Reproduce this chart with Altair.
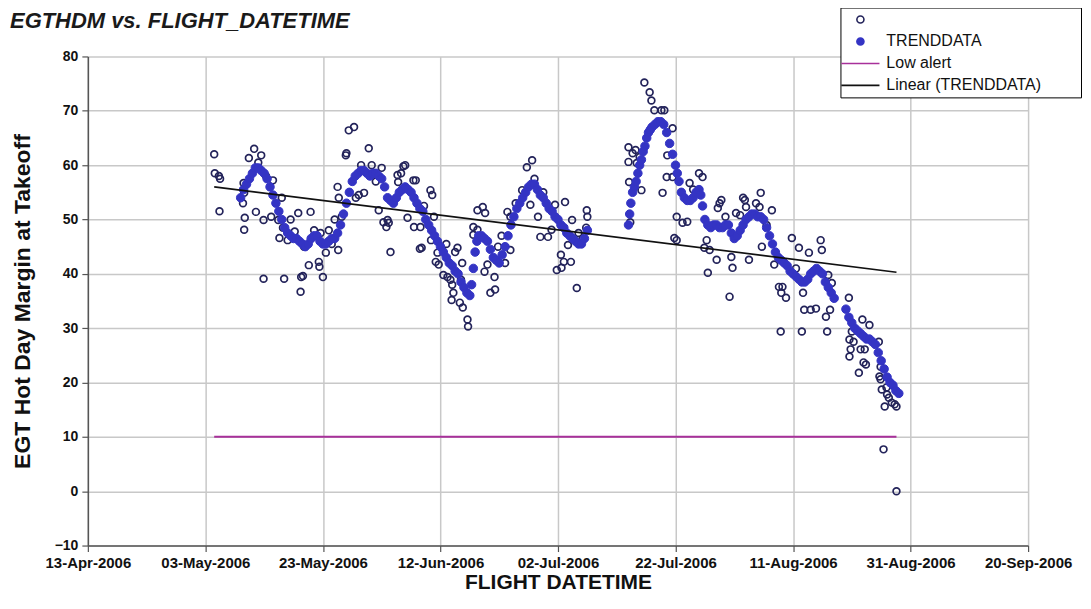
import altair as alt
import pandas as pd

BASE = pd.Timestamp("2006-04-13")

# ---- raw EGTHDM readings (open circles): days after 13-Apr-2006, value ----
raw_day = [21.5, 21.6, 22.3, 22.5, 22.4,
           26.5, 26.6, 26.4, 26.7, 26.6, 27.4,
           28.3, 28.6, 29.0, 29.5, 29.9, 29.9, 30.3,
           31.2, 31.5, 32.4, 32.6, 33.0, 33.4, 33.2,
           34.0, 34.5, 35.2, 35.8, 36.2, 36.3, 36.6, 36.8,
           37.6, 37.9, 38.5, 39.3, 39.4, 39.6, 40.0, 40.5, 41.0, 41.5, 42.0,
           42.5, 42.7, 42.6, 43.2, 43.9, 44.0, 44.4, 45.3,
           45.6, 46.1, 46.5, 47.0, 47.8, 48.3, 49.0, 49.5, 50.0,
           50.3, 50.8, 51.0, 51.2, 51.5, 52.0,
           52.7, 52.8, 53.3, 53.7, 54.0, 54.4, 55.4, 55.5, 55.8,
           56.6, 56.5, 56.8, 57.2, 58.3, 58.6, 58.4, 58.9,
           59.2, 59.5, 59.7, 60.5, 61.2, 61.0,
           61.7, 62.0, 62.2, 61.9, 62.5, 62.9, 63.5, 63.7, 63.3, 63.8,
           64.6, 64.7, 65.6, 65.6, 66.3, 66.3,
           66.8, 67.2, 67.6, 67.5, 68.0, 68.5, 69.3, 69.2, 69.8, 70.4,
           71.0, 71.4, 71.9, 71.9, 72.8, 73.9, 74.7, 75.6, 75.3, 76.0,
           76.6, 77.0, 77.5, 78.3, 78.9, 79.5, 79.8, 80.5, 81.2, 80.6, 81.0,
           81.7, 82.4, 82.2, 83.2, 83.5, 84.2, 84.9, 85.0, 84.8,
           92.0, 92.0, 92.1, 92.3, 92.7, 93.2, 93.4, 93.9, 94.2, 94.7,
           95.6, 95.9, 96.4, 97.6, 98.1, 97.8, 98.5, 98.6, 99.5, 99.5,
           99.8, 100.2, 100.2, 101.2, 102.0, 102.4, 103.0, 104.0, 104.6,
           104.9, 105.3, 105.8, 105.5, 107.0, 107.2, 107.5, 107.8, 108.5,
           109.2, 109.5, 109.7, 110.3, 111.0, 111.5, 111.8, 112.0, 112.5,
           113.7, 114.5, 114.3, 114.7, 115.5, 116.4, 116.8, 117.6, 118.2, 118.0, 118.8, 117.9,
           119.8, 121.0, 120.5, 121.5, 121.7, 121.9, 122.7, 123.0, 123.9, 124.7, 124.9,
           125.6, 125.8, 126.0, 126.6, 126.3,
           129.5, 129.6, 129.8, 129.6, 130.0, 130.3, 131.2, 131.5, 132.2, 132.4, 131.8, 132.0,
           133.0, 134.6, 134.9, 134.9, 135.1, 134.7, 135.4, 135.6, 136.0, 136.3, 135.9,
           136.8, 137.3, 137.6, 137.6]
raw_val = [62.0, 58.5, 58.0, 57.5, 51.5,
           56.7, 54.9, 53.0, 50.3, 48.1, 61.3,
           63.0, 51.4, 60.5, 61.8, 49.9, 39.1, 58.0,
           50.5, 57.2, 49.9, 46.6, 54.0, 39.1, 48.5,
           46.2, 50.0, 47.8, 51.2, 36.7, 39.4, 39.6, 45.0,
           41.6, 51.4, 48.0, 42.2, 41.3, 47.5, 39.4, 43.9, 48.0, 45.5, 50.0,
           56.0, 54.0, 44.4, 50.5, 61.8, 62.2, 66.4, 67.0,
           54.0, 54.5, 60.0, 54.9, 63.1, 60.0, 57.0, 51.7, 59.5,
           49.5, 48.6, 49.9, 49.4, 44.0, 53.5,
           58.2, 56.9, 58.5, 59.8, 60.0, 50.3, 57.2, 48.6, 57.2,
           48.6, 44.6, 44.8, 52.5, 55.4, 54.5, 46.2, 50.5,
           42.2, 43.9, 41.7, 39.8, 39.4, 45.5,
           38.9, 38.0, 36.5, 35.2, 44.0, 44.8, 38.9, 42.0, 34.7, 33.8,
           31.6, 30.3, 48.6, 47.2, 51.7, 48.1,
           46.8, 52.3, 51.2, 40.4, 41.7, 36.5, 37.1, 39.4, 45.0, 47.0,
           42.0, 51.4, 50.5, 44.4, 53.0, 55.4, 59.6, 60.9, 52.7, 57.5,
           50.5, 46.8, 55.0, 46.8, 48.1, 52.7, 40.7, 43.5, 53.2, 41.1, 42.2,
           45.3, 49.9, 42.2, 37.4, 47.5, 46.5, 51.7, 50.5, 48.5,
           63.3, 60.6, 56.9, 49.5, 62.2, 62.8, 60.4, 61.5, 55.4, 75.2,
           73.4, 71.9, 70.1, 70.1, 70.1, 54.9, 57.8, 61.8, 66.8, 57.8,
           46.6, 46.2, 50.5, 49.4, 49.6, 56.7, 55.5, 58.5, 57.8,
           44.8, 46.2, 44.4, 40.2, 42.6, 52.1, 53.0, 53.6, 50.5,
           35.8, 43.1, 41.1, 51.2, 50.8, 54.0, 53.6, 52.3, 42.6,
           53.0, 54.9, 52.3, 45.0, 49.0, 51.7, 41.7, 37.6, 37.6, 36.5, 35.6, 29.4,
           46.6, 44.8, 41.0, 29.4, 36.5, 33.4, 43.9, 33.4, 33.6, 46.2, 44.4,
           32.1, 29.4, 39.8, 38.3, 33.4,
           35.6, 27.9, 26.1, 24.8, 29.4, 27.5, 21.8, 26.1, 26.1, 23.3, 31.6, 23.7,
           30.6, 27.5, 22.9, 20.6, 18.7, 21.1, 7.7, 15.6, 17.8, 17.2, 19.1,
           16.3, 16.0, 15.6, 0.0]

# ---- TRENDDATA (filled dots), read at about half-day steps ----
trend_day = [26.0, 26.5, 27.0, 27.5, 28.0, 28.5, 29.0, 29.5, 30.0, 30.5, 31.0, 31.5,
             32.0, 32.5, 33.0, 33.5, 34.0, 34.5, 35.0, 35.5, 36.0, 36.5, 37.0, 37.5,
             38.0, 38.5, 39.0, 39.5, 40.0, 40.5, 41.0, 41.5, 42.0, 42.5, 43.0, 43.5,
             44.0, 44.5, 45.0, 45.5, 46.0, 46.5, 47.0, 47.5, 48.0, 48.5, 49.0, 49.5,
             50.0, 50.5, 51.0, 51.5, 52.0, 52.5, 53.0, 53.5, 54.0, 54.5, 55.0, 55.5,
             56.0, 56.5, 57.0, 57.5, 58.0, 58.5, 59.0, 59.5, 60.0, 60.5, 61.0, 61.5,
             62.0, 62.5, 63.0, 63.5, 64.0, 64.5, 65.0, 65.3, 65.6, 65.9, 66.2, 66.5,
             67.0, 67.5, 68.0, 68.5, 69.0, 69.5, 70.0, 70.5, 71.0, 71.5, 72.0, 72.5,
             73.0, 73.5, 74.0, 74.5, 75.0, 75.5, 76.0, 76.5, 77.0, 77.5, 78.0, 78.5,
             79.0, 79.5, 80.0, 80.5, 81.0, 81.5, 82.0, 82.5, 83.0, 83.5, 84.0, 84.5, 85.0,
             92.0, 92.2, 92.4, 92.7, 93.0, 93.3, 93.6, 93.9, 94.2, 94.5, 94.8, 95.1,
             95.4, 95.7, 96.0, 96.5, 97.0, 97.5, 98.0, 98.5, 99.0, 99.5, 100.0, 100.3,
             100.6, 101.0, 101.5, 102.0, 102.5, 103.0, 103.5, 104.0, 104.3, 104.6, 105.0,
             105.5, 106.0, 106.5, 107.0, 107.5, 108.0, 108.5, 109.0, 109.5, 110.0, 110.5,
             111.0, 111.5, 112.0, 112.5, 113.0, 113.5, 114.0, 114.5, 115.0, 115.5, 116.0,
             116.5, 117.0, 117.5, 118.0, 118.5, 119.0, 119.5, 120.0, 120.5, 121.0, 121.5,
             122.0, 122.5, 123.0, 123.5, 124.0, 124.5, 125.0, 125.5, 126.0, 126.5, 127.0,
             129.0, 129.5, 130.0, 130.5, 131.0, 131.5, 132.0, 132.5, 133.0, 133.5, 134.0,
             134.5, 135.0, 135.5, 136.0, 136.5, 137.0, 137.5, 138.0]
trend_val = [54.0, 55.5, 56.5, 57.5, 58.5, 59.5, 59.5, 59.0, 58.5, 57.5, 56.0, 54.5,
             53.0, 51.5, 50.0, 48.5, 47.5, 47.0, 46.5, 46.5, 46.0, 45.5, 45.0, 45.5,
             46.5, 47.0, 47.0, 46.0, 45.5, 45.5, 46.0, 46.5, 46.5, 47.5, 49.0, 51.0,
             53.0, 55.0, 57.0, 58.0, 58.5, 59.0, 59.0, 58.5, 58.0, 58.5, 58.5, 58.0,
             57.5, 56.0, 54.0, 53.5, 53.0, 54.0, 55.0, 55.5, 56.0, 55.5, 55.0, 54.0,
             53.0, 52.0, 51.5, 50.0, 49.0, 48.0, 47.0, 46.0, 45.0, 44.0, 43.0, 42.0,
             41.5, 40.5, 40.0, 38.5, 37.5, 36.5, 36.0, 38.0, 41.0, 44.0, 46.0, 47.0,
             47.0, 46.5, 46.0, 44.5, 43.0, 42.5, 42.0, 43.5, 45.0, 47.0, 49.0, 50.5,
             52.0, 53.0, 54.0, 55.0, 56.0, 56.5, 56.5, 55.5, 54.5, 54.0, 53.0, 52.0,
             51.5, 50.5, 50.0, 49.0, 48.5, 47.5, 47.0, 46.5, 46.0, 45.5, 45.5, 46.5, 48.0,
             49.0, 51.0, 53.0, 55.0, 56.0, 57.0, 58.5, 60.0, 61.0, 62.5, 63.5, 65.0,
             66.0, 66.5, 67.0, 67.5, 68.0, 68.0, 67.5, 66.0, 64.0, 62.0, 60.0, 58.5,
             57.0, 55.0, 54.0, 53.5, 53.5, 54.0, 55.0, 55.5, 54.5, 52.5, 50.0,
             49.0, 48.5, 49.0, 49.0, 48.5, 48.5, 49.0, 49.0, 47.5, 46.5, 47.0,
             48.0, 49.0, 50.0, 50.5, 51.0, 51.0, 50.5, 50.5, 50.0, 48.5, 47.0,
             45.5, 44.0, 43.0, 42.5, 42.0, 41.5, 40.5, 40.0, 39.5, 39.0, 38.5,
             38.5, 39.0, 40.0, 40.5, 41.0, 40.5, 40.0, 38.5, 37.5, 36.5, 35.5,
             33.5, 32.0, 31.0, 30.0, 29.5, 29.0, 28.5, 28.0, 28.0, 27.5, 27.0,
             25.5, 24.0, 22.5, 21.0, 20.0, 19.5, 18.5, 18.0]

# ---- Linear (TRENDDATA) end points and Low alert level ----
fit_day = [21.5, 137.6]
fit_val = [56.0, 40.3]
alert_day = [21.5, 137.6]
alert_val = [10.0, 10.0]

tick_dates = ["2006-04-13", "2006-05-03", "2006-05-23", "2006-06-12", "2006-07-02",
              "2006-07-22", "2006-08-11", "2006-08-31", "2006-09-20"]
y_ticks = [-10, 0, 10, 20, 30, 40, 50, 60, 70, 80]

series_names = ["raw", "TRENDDATA", "Low alert", "Linear (TRENDDATA)"]
fill_colors = ["transparent", "#3434c4", "transparent", "transparent"]
stroke_colors = ["#23235a", "#3434c4", "#a8309a", "#111111"]
shapes = ["circle", "circle", "M-5.4,0H5.4", "M-5.4,0H5.4"]


def frame(days, vals, name):
    return pd.DataFrame({
        "date": [BASE + pd.Timedelta(days=d) for d in days],
        "value": vals,
        "series": name,
    })


def dt(s):
    t = pd.Timestamp(s)
    return alt.DateTime(year=t.year, month=t.month, date=t.day)


raw_df = frame(raw_day, raw_val, "raw")
trend_df = frame(trend_day, trend_val, "TRENDDATA")
alert_df = frame(alert_day, alert_val, "Low alert")
fit_df = frame(fit_day, fit_val, "Linear (TRENDDATA)")

FONT = "Liberation Sans"

x_enc = alt.X(
    "date:T",
    scale=alt.Scale(domain=[dt(tick_dates[0]), dt(tick_dates[-1])]),
    axis=alt.Axis(
        values=[dt(s) for s in tick_dates], format="%d-%b-%Y",
        labelFont=FONT, labelFontSize=15, labelFontWeight="bold",
        labelColor="#111111", labelPadding=4, labelFlush=False, labelOverlap=False,
        tickSize=6, tickColor="#555555", tickWidth=1.2,
        domainColor="#555555", domainWidth=1.5,
        grid=True, gridColor="#c8c8c8", gridWidth=1.5,
        title="FLIGHT DATETIME", titleFont=FONT, titleFontSize=21,
        titleFontWeight="bold", titleColor="#111111",
        titleBaseline="middle", titleY=37,
    ),
)
y_enc = alt.Y(
    "value:Q",
    scale=alt.Scale(domain=[-10, 80], nice=False, zero=False),
    axis=alt.Axis(
        values=y_ticks, labelFont=FONT, labelFontSize=14,
        labelFontWeight="bold", labelColor="#111111", labelPadding=4,
        tickSize=6, tickColor="#555555", tickWidth=1.2,
        domainColor="#555555", domainWidth=1.5,
        grid=True, gridColor="#c8c8c8", gridWidth=1.5,
        title="EGT Hot Day Margin at Takeoff", titleFont=FONT,
        titleFontSize=23, titleFontWeight="bold", titleColor="#111111",
        titleBaseline="middle", titleAngle=270, titleX=-65, titleY=245,
    ),
)

# blank (non-whitespace) filler so the legend box reaches as far right as the original
PAD = "\u2800" * 3
leg = alt.Legend(
    title=None,
    labelExpr="datum.label == 'raw' ? '' : (datum.label == 'Linear (TRENDDATA)' ? datum.label + '" + PAD + "' : datum.label)",
)
fill_enc = alt.Fill("series:N", scale=alt.Scale(domain=series_names, range=fill_colors), legend=leg)
stroke_enc = alt.Stroke("series:N", scale=alt.Scale(domain=series_names, range=stroke_colors), legend=leg)
shape_enc = alt.Shape("series:N", scale=alt.Scale(domain=series_names, range=shapes), legend=leg)

raw_layer = alt.Chart(raw_df).mark_point(size=46, strokeWidth=1.7, opacity=1).encode(
    x=x_enc, y=y_enc, fill=fill_enc, stroke=stroke_enc, shape=shape_enc)
trend_layer = alt.Chart(trend_df).mark_point(size=72, strokeWidth=1, opacity=1).encode(
    x=x_enc, y=y_enc, fill=fill_enc, stroke=stroke_enc, shape=shape_enc)
alert_layer = alt.Chart(alert_df).mark_line(strokeWidth=2).encode(
    x=x_enc, y=y_enc, stroke=stroke_enc)
fit_layer = alt.Chart(fit_df).mark_line(strokeWidth=1.6).encode(
    x=x_enc, y=y_enc, stroke=stroke_enc)

chart = alt.layer(raw_layer, trend_layer, alert_layer, fit_layer).properties(
    width=942, height=490,
    padding={"left": 80, "top": 48, "right": 55, "bottom": 50},
    autosize=alt.AutoSizeParams(type="none"),
    title=alt.Title(
        "EGTHDM vs. FLIGHT_DATETIME", anchor="start", frame="group",
        font=FONT, fontSize=22, fontStyle="italic", fontWeight="bold",
        color="#1a1a1a", dx=-78, offset=0, baseline="alphabetic", dy=43,
    ),
).configure_view(strokeWidth=0).configure_legend(
    orient="none", legendX=754, legendY=-49,
    fillColor="white", strokeColor="#000000", padding=4,
    labelFont=FONT, labelFontSize=16, labelColor="#111111", labelLimit=400,
    symbolSize=50, symbolOffset=8, labelOffset=18, rowPadding=6,
    symbolStrokeWidth=1.6,
)

chart.save("out.html", embed_options={"renderer": "svg", "actions": False})
